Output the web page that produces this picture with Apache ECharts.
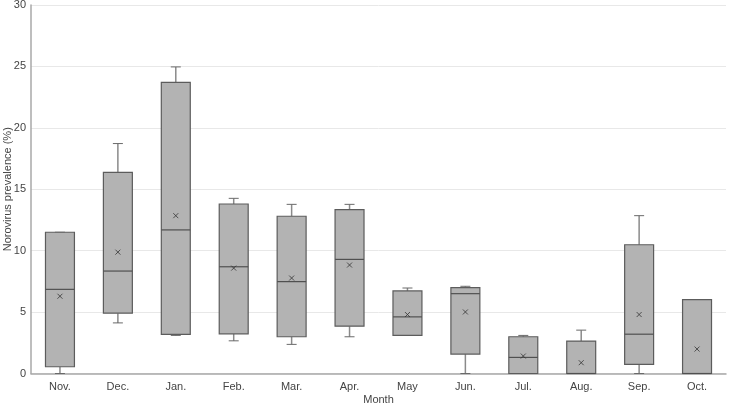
<!DOCTYPE html>
<html>
<head>
<meta charset="utf-8">
<script src="https://cdn.jsdelivr.net/npm/echarts@6/dist/echarts.min.js"></script>
<style>html,body{margin:0;padding:0;background:#fff}#c{width:729px;height:405px}</style>
</head>
<body>
<div id="c"></div>
<script>
var months = ['Nov.','Dec.','Jan.','Feb.','Mar.','Apr.','May','Jun.','Jul.','Aug.','Sep.','Oct.'];
var minV  = [0, 4.12, 3.1, 2.66, 2.37, 2.99, 3.1, 0, 0, 0, 0, 0];
var q1V   = [0.55, 4.91, 3.18, 3.23, 2.99, 3.85, 3.1, 1.58, 0, 0, 0.74, 0];
var medV  = [6.85, 8.34, 11.69, 8.69, 7.48, 9.29, 4.61, 6.5, 1.31, 0, 3.2, 0];
var q3V   = [11.5, 16.37, 23.7, 13.8, 12.8, 13.34, 6.72, 6.99, 2.99, 2.64, 10.48, 6.02];
var maxV  = [11.5, 18.72, 24.96, 14.26, 13.77, 13.77, 6.96, 7.1, 3.1, 3.53, 12.85, 6.02];
var meanV = [6.29, 9.88, 12.85, 8.58, 7.77, 8.83, 4.8, 5.01, 1.42, 0.88, 4.8, 1.99];
var yTicks = [0, 5, 10, 15, 20, 25, 30];

var boxData = months.map(function(m, i){ return [i, minV[i], q1V[i], medV[i], q3V[i], maxV[i]]; });
var meanData = months.map(function(m, i){ return [i, meanV[i]]; });

var font = 'Liberation Sans, Arial, sans-serif';
var chart = echarts.init(document.getElementById('c'));
chart.setOption({
  animation: false,
  backgroundColor: '#fff',
  grid: {left: 31, right: 3, top: 5, bottom: 31.5, containLabel: false, outerBoundsMode: 'none'},
  xAxis: {
    type: 'category', data: months,
    name: 'Month', nameLocation: 'middle', nameGap: 21, nameMoveOverlap: false,
    nameTextStyle: {fontFamily: font, fontSize: 11, color: '#444'},
    axisLine: {lineStyle: {color: '#a8a8a8', width: 1.5}},
    axisTick: {show: false},
    axisLabel: {fontFamily: font, fontSize: 11, color: '#444', margin: 8}
  },
  yAxis: {
    type: 'value', min: yTicks[0], max: yTicks[yTicks.length-1], interval: 5,
    name: 'Norovirus prevalence (%)', nameLocation: 'middle', nameGap: 18, nameRotate: 90, nameMoveOverlap: false,
    nameTextStyle: {fontFamily: font, fontSize: 11, color: '#444'},
    axisLine: {show: true, lineStyle: {color: '#a8a8a8', width: 1.5}},
    axisTick: {show: false},
    axisLabel: {fontFamily: font, fontSize: 11, color: '#444', margin: 5},
    splitLine: {lineStyle: {color: '#e8e8e8', width: 1}}
  },
  series: [{
    type: 'custom',
    data: boxData,
    encode: {x: 0, y: [1,2,3,4,5]},
    renderItem: function(params, api){
      var i = api.value(0);
      var w = api.size([1, 0])[0] * 0.5;
      var cap = 10;
      var pMin = api.coord([i, api.value(1)]);
      var pQ1 = api.coord([i, api.value(2)]);
      var pMed = api.coord([i, api.value(3)]);
      var pQ3 = api.coord([i, api.value(4)]);
      var pMax = api.coord([i, api.value(5)]);
      var x = pQ1[0];
      var lineW = {stroke: '#8a8a8a', lineWidth: 1.5};
      var capS = {stroke: '#6a6a6a', lineWidth: 1};
      return {type: 'group', children: [
        {type: 'line', shape: {x1: x, y1: pQ3[1], x2: x, y2: pMax[1]}, style: lineW},
        {type: 'line', shape: {x1: x, y1: pQ1[1], x2: x, y2: pMin[1]}, style: lineW},
        {type: 'line', shape: {x1: x - cap/2, y1: pMax[1], x2: x + cap/2, y2: pMax[1]}, style: capS},
        {type: 'line', shape: {x1: x - cap/2, y1: pMin[1], x2: x + cap/2, y2: pMin[1]}, style: capS},
        {type: 'rect', shape: {x: x - w/2, y: pQ3[1], width: w, height: pQ1[1] - pQ3[1]},
          style: {fill: '#b3b3b3', stroke: '#5c5c5c', lineWidth: 1.2}},
        {type: 'line', shape: {x1: x - w/2, y1: pMed[1], x2: x + w/2, y2: pMed[1]},
          style: {stroke: '#505050', lineWidth: 1.2}}
      ]};
    },
    z: 2
  }, {
    type: 'scatter',
    data: meanData,
    symbol: 'path://M0,0L10,10M10,0L0,10',
    symbolSize: 5,
    itemStyle: {color: 'none', borderColor: '#333', borderWidth: 1},
    z: 3
  }]
});
</script>
</body>
</html>
